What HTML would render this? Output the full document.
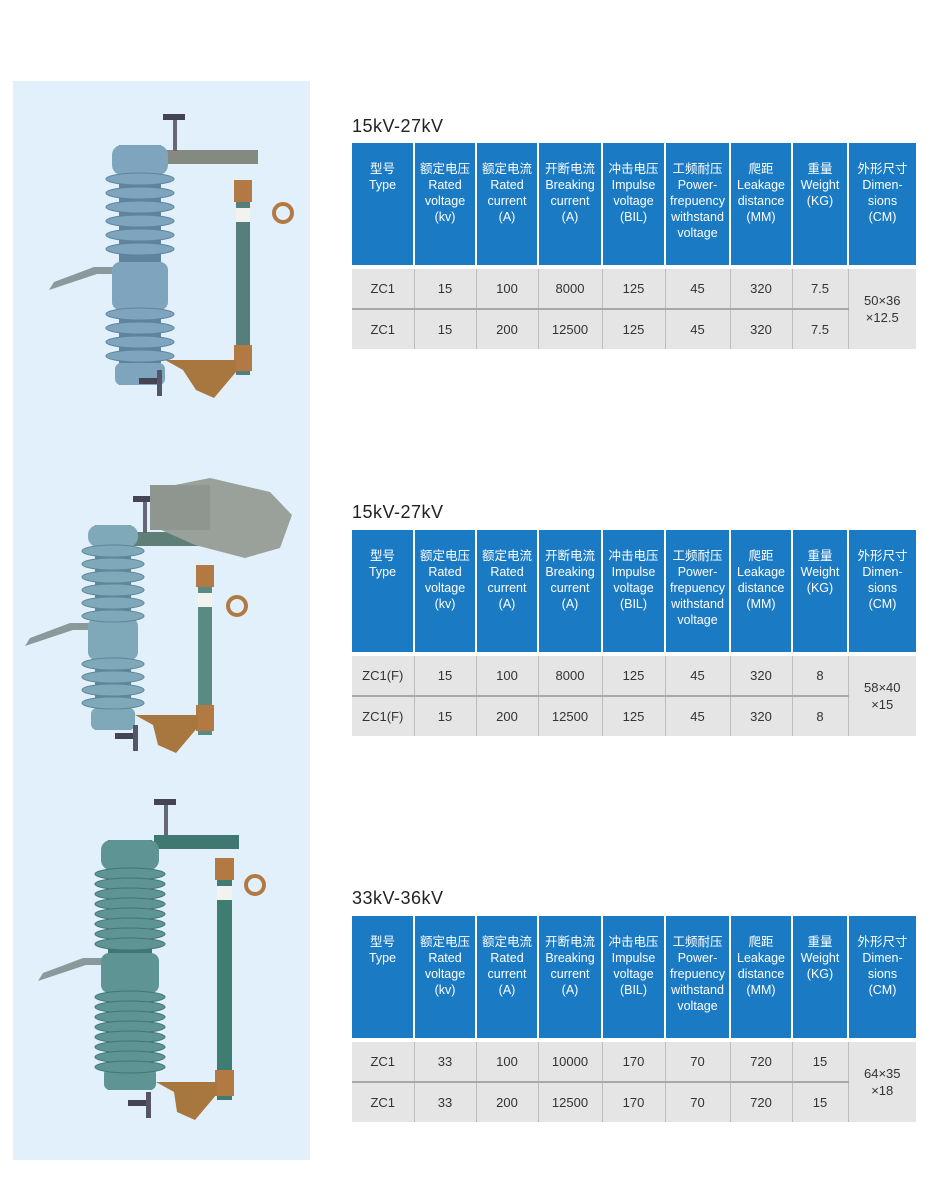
<!DOCTYPE html>
<html><head><meta charset="utf-8">
<style>
html,body{margin:0;padding:0;background:#fff;}
body{width:930px;height:1196px;position:relative;overflow:hidden;font-family:"Liberation Sans","Noto Sans CJK SC",sans-serif;}
.panel{position:absolute;left:13px;top:81px;width:297px;height:1079px;background:#e2f0fb;}
.title{position:absolute;left:352px;font-size:18px;color:#222;letter-spacing:0.5px;}
table{position:absolute;left:352px;width:564px;border-collapse:collapse;table-layout:fixed;}
th{background:#1a7ac4;color:#fff;font-weight:normal;font-size:12.5px;line-height:16px;vertical-align:top;padding:18px 0 0 0;height:104px;border-left:2px solid #fff;text-align:center;}
th:first-child{border-left:none;}
td{background:#e5e5e5;color:#333;font-size:13px;text-align:center;height:39px;padding:0;border-left:1px solid #bdbdbd;}
td:first-child{border-left:none;}
tr.gap td{height:4px;background:#fff;border:none;}
tr.r2 td{border-top:2px solid #a8a8a8;}
td.dim{border-top:none !important;line-height:17px;}
</style></head><body>
<div class="panel"></div>
<svg id="art" width="930" height="1196" style="position:absolute;left:0;top:0"></svg>

<div class="title" style="top:116px">15kV-27kV</div>
<table style="top:143px">
<colgroup><col style="width:62px"><col style="width:62px"><col style="width:62px"><col style="width:64px"><col style="width:63px"><col style="width:65px"><col style="width:62px"><col style="width:56px"><col style="width:68px"></colgroup>
<tr><th>型号<br>Type</th><th>额定电压<br>Rated<br>voltage<br>(kv)</th><th>额定电流<br>Rated<br>current<br>(A)</th><th>开断电流<br>Breaking<br>current<br>(A)</th><th>冲击电压<br>Impulse<br>voltage<br>(BIL)</th><th>工频耐压<br>Power-<br>frepuency<br>withstand<br>voltage</th><th>爬距<br>Leakage<br>distance<br>(MM)</th><th>重量<br>Weight<br>(KG)</th><th>外形尺寸<br>Dimen-<br>sions<br>(CM)</th></tr>
<tr class="gap"><td colspan="9"></td></tr>
<tr><td>ZC1</td><td>15</td><td>100</td><td>8000</td><td>125</td><td>45</td><td>320</td><td>7.5</td><td class="dim" rowspan="2">50×36<br>×12.5</td></tr>
<tr class="r2"><td>ZC1</td><td>15</td><td>200</td><td>12500</td><td>125</td><td>45</td><td>320</td><td>7.5</td></tr>
</table>

<div class="title" style="top:502px">15kV-27kV</div>
<table style="top:530px">
<colgroup><col style="width:62px"><col style="width:62px"><col style="width:62px"><col style="width:64px"><col style="width:63px"><col style="width:65px"><col style="width:62px"><col style="width:56px"><col style="width:68px"></colgroup>
<tr><th>型号<br>Type</th><th>额定电压<br>Rated<br>voltage<br>(kv)</th><th>额定电流<br>Rated<br>current<br>(A)</th><th>开断电流<br>Breaking<br>current<br>(A)</th><th>冲击电压<br>Impulse<br>voltage<br>(BIL)</th><th>工频耐压<br>Power-<br>frepuency<br>withstand<br>voltage</th><th>爬距<br>Leakage<br>distance<br>(MM)</th><th>重量<br>Weight<br>(KG)</th><th>外形尺寸<br>Dimen-<br>sions<br>(CM)</th></tr>
<tr class="gap"><td colspan="9"></td></tr>
<tr><td>ZC1(F)</td><td>15</td><td>100</td><td>8000</td><td>125</td><td>45</td><td>320</td><td>8</td><td class="dim" rowspan="2">58×40<br>×15</td></tr>
<tr class="r2"><td>ZC1(F)</td><td>15</td><td>200</td><td>12500</td><td>125</td><td>45</td><td>320</td><td>8</td></tr>
</table>

<div class="title" style="top:888px">33kV-36kV</div>
<table style="top:916px">
<colgroup><col style="width:62px"><col style="width:62px"><col style="width:62px"><col style="width:64px"><col style="width:63px"><col style="width:65px"><col style="width:62px"><col style="width:56px"><col style="width:68px"></colgroup>
<tr><th>型号<br>Type</th><th>额定电压<br>Rated<br>voltage<br>(kv)</th><th>额定电流<br>Rated<br>current<br>(A)</th><th>开断电流<br>Breaking<br>current<br>(A)</th><th>冲击电压<br>Impulse<br>voltage<br>(BIL)</th><th>工频耐压<br>Power-<br>frepuency<br>withstand<br>voltage</th><th>爬距<br>Leakage<br>distance<br>(MM)</th><th>重量<br>Weight<br>(KG)</th><th>外形尺寸<br>Dimen-<br>sions<br>(CM)</th></tr>
<tr class="gap"><td colspan="9"></td></tr>
<tr><td>ZC1</td><td>33</td><td>100</td><td>10000</td><td>170</td><td>70</td><td>720</td><td>15</td><td class="dim" rowspan="2">64×35<br>×18</td></tr>
<tr class="r2"><td>ZC1</td><td>33</td><td>200</td><td>12500</td><td>170</td><td>70</td><td>720</td><td>15</td></tr>
</table>

<script>
var s='';
function fig(o){
 var c=o.cx,w=o.w,col=o.col,dk=o.dk;
 // arm pipe
 s+='<polygon points="'+(c-w/2-60)+','+(o.my+28)+' '+(c-w/2-55)+','+(o.my+20)+' '+(c-w/2-15)+','+(o.my+5)+' '+(c)+','+(o.my+5)+' '+c+','+(o.my+12)+' '+(c-w/2-12)+','+(o.my+12)+'" fill="#8a9a9c"/>';
 // top bracket
 s+='<rect x="'+(c+w/2-8)+'" y="'+o.bt+'" width="'+(o.tx-c-w/2+30)+'" height="14" fill="'+o.bcol+'"/>';
 s+='<rect x="'+(c+w/2+2)+'" y="'+(o.bt-35)+'" width="4" height="36" fill="#667"/>';
 s+='<rect x="'+(c+w/2-8)+'" y="'+(o.bt-36)+'" width="22" height="6" fill="#445"/>';
 // core
 s+='<rect x="'+(c-w/2+10)+'" y="'+o.top+'" width="'+(w-20)+'" height="'+(o.bot-o.top)+'" fill="'+dk+'"/>';
 s+='<rect x="'+(c-w/2+3)+'" y="'+o.top+'" width="'+(w-6)+'" height="'+(o.cap)+'" rx="10" fill="'+col+'"/>';
 s+='<rect x="'+(c-w/2+3)+'" y="'+o.my+'" width="'+(w-6)+'" height="'+(o.mh)+'" rx="8" fill="'+col+'"/>';
 s+='<rect x="'+(c-w/2+6)+'" y="'+(o.bot-22)+'" width="'+(w-12)+'" height="22" rx="6" fill="'+col+'"/>';
 var y;
 for(y=o.top+o.cap;y<o.my-4;y+=o.sp){s+='<ellipse cx="'+c+'" cy="'+(y+4)+'" rx="'+(w/2+3)+'" ry="6" fill="'+col+'" stroke="'+dk+'" stroke-width="1"/>';}
 for(y=o.my+o.mh;y<o.bot-24;y+=o.sp){s+='<ellipse cx="'+c+'" cy="'+(y+4)+'" rx="'+(w/2+3)+'" ry="6" fill="'+col+'" stroke="'+dk+'" stroke-width="1"/>';}
 // tube
 s+='<rect x="'+o.tx+'" y="'+o.tt+'" width="'+o.tw+'" height="'+(o.tb-o.tt)+'" fill="'+o.tcol+'"/>';
 s+='<rect x="'+(o.tx-2)+'" y="'+(o.tt)+'" width="'+(o.tw+4)+'" height="22" fill="#b27a42"/>';
 s+='<rect x="'+(o.tx)+'" y="'+(o.tt+28)+'" width="'+(o.tw)+'" height="14" fill="#f2f2ee"/>';
 s+='<rect x="'+(o.tx-2)+'" y="'+(o.tb-30)+'" width="'+(o.tw+4)+'" height="26" fill="#b27a42"/>';
 s+='<circle cx="'+o.rx+'" cy="'+o.ry+'" r="9" fill="none" stroke="#b27a42" stroke-width="4"/>';
 // bottom bracket
 s+='<polygon points="'+(c+w/2-6)+','+(o.bb)+' '+(o.tx)+','+(o.bb)+' '+(o.tx)+','+(o.bb+12)+' '+(o.tx-22)+','+(o.bb+38)+' '+(o.tx-40)+','+(o.bb+30)+' '+(c+w/2+12)+','+(o.bb+10)+'" fill="#a8763f"/>';
 s+='<rect x="'+(c-w/2+30)+'" y="'+(o.bb+18)+'" width="22" height="6" fill="#445"/>';
 s+='<rect x="'+(c-w/2+48)+'" y="'+(o.bb+10)+'" width="5" height="26" fill="#556"/>';
}
fig({cx:140,w:62,col:'#7fa4bd',dk:'#5d849c',top:145,bot:385,cap:30,my:262,mh:48,sp:14,bt:150,bcol:'#858a80',tx:236,tw:14,tt:180,tb:375,tcol:'#557f7c',rx:283,ry:213,bb:360});
fig({cx:113,w:56,col:'#7fa8b9',dk:'#5e8799',top:525,bot:730,cap:22,my:618,mh:42,sp:13,bt:532,bcol:'#5e7f78',tx:198,tw:14,tt:565,tb:735,tcol:'#5a8a84',rx:237,ry:606,bb:715});
s+='<polygon points="150,490 210,478 270,492 292,515 280,548 245,558 195,545 150,525" fill="#9aa09a"/>';
s+='<rect x="150" y="485" width="60" height="45" fill="#8f958f"/>';
fig({cx:130,w:64,col:'#5f9495',dk:'#417576',top:840,bot:1090,cap:30,my:953,mh:40,sp:10,bt:835,bcol:'#3f7771',tx:217,tw:15,tt:858,tb:1100,tcol:'#3f7d73',rx:255,ry:885,bb:1082});
document.getElementById('art').innerHTML=s;
</script>
</body></html>
